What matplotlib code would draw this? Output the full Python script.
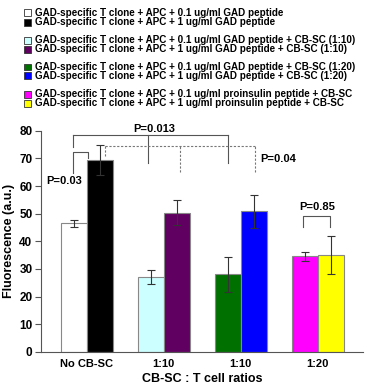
import matplotlib.pyplot as plt
import numpy as np
from matplotlib.patches import Rectangle

plt.rcParams['font.family'] = ['Liberation Sans', 'DejaVu Sans']
plt.rcParams['font.weight'] = 'bold'

# Data
groups = ['No CB-SC', '1:10', '1:10', '1:20']
low_vals = [46.5, 27.0, 28.0, 34.5]     # 0.1 ug/ml
low_err = [1.3, 2.5, 6.4, 1.5]
high_vals = [69.5, 50.3, 50.8, 35.0]    # 1 ug/ml
high_err = [5.5, 4.5, 5.9, 6.8]
low_colors = ['white', '#ccffff', '#007000', '#ff00ff']
high_colors = ['black', '#600060', '#0000ff', '#ffff00']

legend_labels = [
    'GAD-specific T clone + APC + 0.1 ug/ml GAD peptide',
    'GAD-specific T clone + APC + 1 ug/ml GAD peptide',
    'GAD-specific T clone + APC + 0.1 ug/ml GAD peptide + CB-SC (1:10)',
    'GAD-specific T clone + APC + 1 ug/ml GAD peptide + CB-SC (1:10)',
    'GAD-specific T clone + APC + 0.1 ug/ml GAD peptide + CB-SC (1:20)',
    'GAD-specific T clone + APC + 1 ug/ml GAD peptide + CB-SC (1:20)',
    'GAD-specific T clone + APC + 0.1 ug/ml proinsulin peptide + CB-SC',
    'GAD-specific T clone + APC + 1 ug/ml proinsulin peptide + CB-SC',
]
legend_colors = ['white', 'black', '#ccffff', '#600060',
                 '#007000', '#0000ff', '#ff00ff', '#ffff00']

fig = plt.figure(figsize=(3.81, 3.87), dpi=100)
ax = fig.add_axes([0.107, 0.091, 0.846, 0.571])

x = np.arange(len(groups))
w = 0.338
edge = '#888888'
ax.bar(x - w / 2, low_vals, w, color=low_colors, edgecolor=edge, linewidth=0.8)
ax.bar(x + w / 2, high_vals, w, color=high_colors, edgecolor=edge, linewidth=0.8)
ax.errorbar(x - w / 2, low_vals, yerr=low_err, fmt='none', ecolor='#333333',
            elinewidth=0.8, capsize=3, capthick=0.8)
ax.errorbar(x + w / 2, high_vals, yerr=high_err, fmt='none', ecolor='#333333',
            elinewidth=0.8, capsize=3, capthick=0.8)

ax.set_xlim(-0.6, 3.59)
ax.set_ylim(0, 80)
ax.set_yticks(range(0, 81, 10))
ax.set_xticks(x)
ax.set_xticklabels(groups)
ax.tick_params(axis='x', length=0, labelsize=8, pad=5)
ax.tick_params(axis='y', length=4, width=0.8, color='#555555', labelsize=8.5, pad=2)
for s in ['top', 'right']:
    ax.spines[s].set_visible(False)
for s in ['left', 'bottom']:
    ax.spines[s].set_color('#555555')
    ax.spines[s].set_linewidth(0.8)
ax.set_ylabel('Fluorescence (a.u.)', fontsize=9, fontweight='bold', labelpad=3)
ax.set_xlabel('CB-SC : T cell ratios', fontsize=9, fontweight='bold', labelpad=3)

lc = '#555555'
kw = dict(color=lc, lw=0.8, clip_on=False)
# P=0.03 bracket
ax.plot([-0.18, -0.18, 0.02, 0.02], [64.6, 72.2, 72.2, 70.3], **kw)
ax.text(-0.29, 61.8, 'P=0.03', fontsize=8, ha='center', va='center')
# P=0.013 bracket
ax.plot([-0.18, -0.18], [74.3, 78.5], **kw)
ax.plot([-0.18, 1.84], [78.5, 78.5], **kw)
ax.plot([0.79, 0.79], [68.5, 78.5], **kw)
ax.plot([1.84, 1.84], [68.5, 78.5], **kw)
ax.text(0.87, 80.6, 'P=0.013', fontsize=8, ha='center', va='center')
# P=0.04 dashed bracket
dkw = dict(color='#777777', lw=0.8, ls=(0, (2, 1.5)), clip_on=False)
ax.plot([0.24, 0.24], [70.7, 74.5], **dkw)
ax.plot([0.24, 2.19], [74.5, 74.5], **dkw)
ax.plot([1.21, 1.21], [65.2, 74.5], **dkw)
ax.plot([2.19, 2.19], [65.2, 74.5], **dkw)
ax.text(2.25, 69.8, 'P=0.04', fontsize=8, ha='left', va='center')
# P=0.85 bracket
ax.plot([2.81, 2.81, 3.16, 3.16], [45.0, 49.2, 49.2, 45.0], **kw)
ax.text(2.99, 52.5, 'P=0.85', fontsize=8, ha='center', va='center')

# Legend drawn as text rows in figure coords
rows_y = [12.7, 22.3, 40.3, 49.3, 67.0, 75.7, 94.3, 103.3]
for yy, lab, c in zip(rows_y, legend_labels, legend_colors):
    fy = 1 - yy / 387
    fig.patches.append(Rectangle((24 / 381, fy - 3.3 / 387), 6.6 / 381, 6.6 / 387,
                                 transform=fig.transFigure, facecolor=c,
                                 edgecolor='#333333', linewidth=0.6))
    fig.text(35 / 381, fy, lab, fontsize=7.1, fontweight='bold',
             ha='left', va='center')

fig.savefig('out.png', dpi=100)
